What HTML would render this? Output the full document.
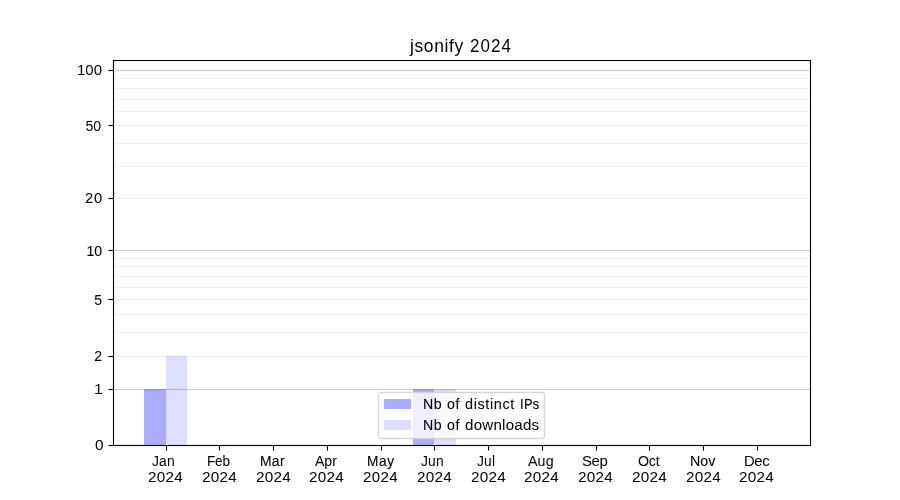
<!DOCTYPE html>
<html lang="en"><head><meta charset="utf-8"><title>jsonify 2024</title>
<style>
html,body{margin:0;padding:0;background:#fff}
body{position:relative;width:900px;height:500px;overflow:hidden;font-family:"Liberation Sans",sans-serif;color:#000}
div,span{position:absolute;margin:0;padding:0}
.gM,.gm{left:114px;width:696px;height:1px}
.gM{background:#ccc;box-shadow:0 -1px 0 #fcfcfc,0 1px 0 #fcfcfc}
.gm{background:#eee;box-shadow:0 -1px 0 #fefefe,0 1px 0 #fefefe}
.b1{background:rgba(0,0,255,.33)}.b2{background:rgba(0,0,255,.13)}
.sp{background:#000}
.hh{left:113px;width:698px;height:3px;background:linear-gradient(to bottom,rgba(0,0,0,.055) 0 1px,#000 1px 2px,rgba(0,0,0,.055) 2px 3px)}
.hv{top:60px;height:386px;width:3px;background:linear-gradient(to right,rgba(0,0,0,.055) 0 1px,#000 1px 2px,rgba(0,0,0,.055) 2px 3px)}
.hh::before,.hh::after,.hv::before,.hv::after{content:"";position:absolute;width:1px;height:1px;background:rgba(0,0,0,.055)}
.hh::before{left:-1px;top:1px}.hh::after{right:-1px;top:1px}.hv::before{left:1px;top:-1px}.hv::after{left:1px;bottom:-1px}
.ty{left:108px;width:5px;height:3px;background:linear-gradient(to bottom,rgba(0,0,0,.055) 0 1px,transparent 1px 2px,rgba(0,0,0,.055) 2px 3px)}
.ty i{position:absolute;left:0;top:1px;width:5px;height:1px;background:linear-gradient(to right,rgba(0,0,0,.5) 0 1px,#000 1px 5px)}
.tx{top:446px;width:3px;height:5px;background:linear-gradient(to right,rgba(0,0,0,.055) 0 1px,transparent 1px 2px,rgba(0,0,0,.055) 2px 3px)}
.tx i{position:absolute;left:1px;top:0;width:1px;height:5px;background:linear-gradient(to bottom,#000 0 4px,rgba(0,0,0,.5) 4px 5px)}
.t{white-space:nowrap;line-height:1;transform-origin:0 0}
.L{left:0;top:0;width:900px;height:500px;will-change:transform}
.leg{left:378px;top:392px;width:167px;height:47px;box-sizing:border-box;border:1px solid rgba(204,204,204,.8);border-radius:3.4px;background:rgba(255,255,255,.8);box-shadow:0 0 0 1px rgba(204,204,204,.157),inset 0 0 0 1px rgba(204,204,204,.157)}
</style></head><body>
<div class="gM" style="top:70px"></div>
<div class="gM" style="top:250px"></div>
<div class="gM" style="top:389px"></div>
<div class="gm" style="top:78px"></div>
<div class="gm" style="top:88px"></div>
<div class="gm" style="top:99px"></div>
<div class="gm" style="top:111px"></div>
<div class="gm" style="top:125px"></div>
<div class="gm" style="top:143px"></div>
<div class="gm" style="top:166px"></div>
<div class="gm" style="top:198px"></div>
<div class="gm" style="top:258px"></div>
<div class="gm" style="top:266px"></div>
<div class="gm" style="top:276px"></div>
<div class="gm" style="top:287px"></div>
<div class="gm" style="top:299px"></div>
<div class="gm" style="top:314px"></div>
<div class="gm" style="top:332px"></div>
<div class="gm" style="top:356px"></div>
<div class="b1" style="left:144px;top:389px;width:22px;height:56px"></div>
<div class="b2" style="left:166px;top:356px;width:21px;height:89px"></div>
<div class="b1" style="left:413px;top:389px;width:21px;height:56px"></div>
<div class="b2" style="left:434px;top:389px;width:22px;height:56px"></div>
<div class="hh" style="top:59px"></div><div class="hh" style="top:444px"></div>
<div class="hv" style="left:112px"></div><div class="hv" style="left:809px"></div>
<div class="ty" style="top:69px"><i></i></div>
<div class="ty" style="top:124px"><i></i></div>
<div class="ty" style="top:197px"><i></i></div>
<div class="ty" style="top:249px"><i></i></div>
<div class="ty" style="top:298px"><i></i></div>
<div class="ty" style="top:355px"><i></i></div>
<div class="ty" style="top:388px"><i></i></div>
<div class="ty" style="top:444px"><i></i></div>
<div class="tx" style="left:165px"><i></i></div>
<div class="tx" style="left:218px"><i></i></div>
<div class="tx" style="left:272px"><i></i></div>
<div class="tx" style="left:326px"><i></i></div>
<div class="tx" style="left:380px"><i></i></div>
<div class="tx" style="left:433px"><i></i></div>
<div class="tx" style="left:487px"><i></i></div>
<div class="tx" style="left:541px"><i></i></div>
<div class="tx" style="left:595px"><i></i></div>
<div class="tx" style="left:648px"><i></i></div>
<div class="tx" style="left:702px"><i></i></div>
<div class="tx" style="left:756px"><i></i></div>
<div class="L">
<span class="t" id="ti1" style="left:409.50px;top:37.50px;font-size:16.90px;transform:scale(1.0350,1.0390);letter-spacing:0.60px">jsonify</span>
<span class="t" id="ti2" style="left:469.75px;top:37.50px;font-size:16.90px;transform:scale(1.0070,1.0550);letter-spacing:1.00px">2024</span>
<span class="t" id="y100" style="left:76.50px;top:62.50px;font-size:14.10px;transform:scale(1.0630,1.0360)">100</span>
<span class="t" id="y50" style="left:85.50px;top:118.50px;font-size:14.10px;transform:scale(1.0000,0.9950)">50</span>
<span class="t" id="y20" style="left:84.50px;top:190.50px;font-size:14.10px;transform:scale(1.0450,1.0100);-webkit-text-stroke:0.05px #000;letter-spacing:0.80px">20</span>
<span class="t" id="y10" style="left:86.50px;top:243.50px;font-size:14.10px;transform:scale(1.0000,1.0350);-webkit-text-stroke:0.10px #000">10</span>
<span class="t" id="y5" style="left:94.25px;top:292.50px;font-size:14.10px;transform:scale(1.0000,1.0320)">5</span>
<span class="t" id="y2" style="left:94.25px;top:349.00px;font-size:14.10px;transform:scale(1.0000,0.9770);-webkit-text-stroke:0.05px #000">2</span>
<span class="t" id="y1" style="left:93.50px;top:381.50px;font-size:14.10px;transform:scale(1.1120,1.0030)">1</span>
<span class="t" id="y0" style="left:95.00px;top:437.50px;font-size:14.10px;transform:scale(1.0900,0.9800)">0</span>
<span class="t" id="m0" style="left:151.50px;top:453.50px;font-size:14.10px;transform:scale(0.9800,1.0200);letter-spacing:0.20px">Jan</span>
<span class="t" id="d0" style="left:147.50px;top:469.50px;font-size:14.10px;transform:scale(1.0850,1.0100);letter-spacing:0.20px">2024</span>
<span class="t" id="m1" style="left:206.50px;top:454.00px;font-size:14.10px;transform:scale(0.9600,0.9930);letter-spacing:-0.20px">Feb</span>
<span class="t" id="d1" style="left:201.50px;top:469.50px;font-size:14.10px;transform:scale(1.0850,1.0100);letter-spacing:0.20px">2024</span>
<span class="t" id="m2" style="left:259.50px;top:453.50px;font-size:14.10px;transform:scale(0.9850,0.9950);-webkit-text-stroke:0.10px #000;letter-spacing:0.30px">Mar</span>
<span class="t" id="d2" style="left:255.50px;top:469.50px;font-size:14.10px;transform:scale(1.0850,1.0100);letter-spacing:0.20px">2024</span>
<span class="t" id="m3" style="left:314.50px;top:453.50px;font-size:14.10px;transform:scale(0.9970,1.0130)">Apr</span>
<span class="t" id="d3" style="left:309.00px;top:469.50px;font-size:14.10px;transform:scale(1.0850,1.0100);letter-spacing:0.20px">2024</span>
<span class="t" id="m4" style="left:366.50px;top:453.50px;font-size:14.10px;transform:scale(0.9710,1.0170);-webkit-text-stroke:0.10px #000;letter-spacing:0.70px">May</span>
<span class="t" id="d4" style="left:362.75px;top:469.50px;font-size:14.10px;transform:scale(1.0750,0.9810);letter-spacing:0.30px">2024</span>
<span class="t" id="m5" style="left:420.50px;top:453.50px;font-size:14.10px;transform:scale(0.9800,1.0200);letter-spacing:0.20px">Jun</span>
<span class="t" id="d5" style="left:416.50px;top:469.50px;font-size:14.10px;transform:scale(1.0850,1.0100);letter-spacing:0.20px">2024</span>
<span class="t" id="m6" style="left:476.75px;top:454.00px;font-size:14.10px;transform:scale(0.9750,1.0400);letter-spacing:0.20px">Jul</span>
<span class="t" id="d6" style="left:470.50px;top:469.50px;font-size:14.10px;transform:scale(1.0850,1.0100);letter-spacing:0.20px">2024</span>
<span class="t" id="m7" style="left:527.50px;top:453.50px;font-size:14.10px;transform:scale(1.0120,1.0120);letter-spacing:0.10px">Aug</span>
<span class="t" id="d7" style="left:523.75px;top:469.50px;font-size:14.10px;transform:scale(1.0850,1.0100);letter-spacing:0.20px">2024</span>
<span class="t" id="m8" style="left:581.75px;top:452.50px;font-size:14.10px;transform:scale(1.0630,1.0600);letter-spacing:-0.40px">Sep</span>
<span class="t" id="d8" style="left:577.75px;top:469.75px;font-size:14.10px;transform:scale(1.0850,1.0100);letter-spacing:0.20px">2024</span>
<span class="t" id="m9" style="left:637.50px;top:452.50px;font-size:14.10px;transform:scale(1.0050,1.0650);letter-spacing:-0.20px">Oct</span>
<span class="t" id="d9" style="left:631.50px;top:469.50px;font-size:14.10px;transform:scale(1.0850,1.0100);letter-spacing:0.20px">2024</span>
<span class="t" id="m10" style="left:690.00px;top:453.50px;font-size:14.10px;transform:scale(1.0100,1.0320);-webkit-text-stroke:0.10px #000">Nov</span>
<span class="t" id="d10" style="left:685.50px;top:469.50px;font-size:14.10px;transform:scale(1.0850,1.0100);letter-spacing:0.20px">2024</span>
<span class="t" id="m11" style="left:743.50px;top:452.50px;font-size:14.10px;transform:scale(1.0580,1.0780);letter-spacing:-0.40px">Dec</span>
<span class="t" id="d11" style="left:738.50px;top:469.50px;font-size:14.10px;transform:scale(1.0850,1.0100);letter-spacing:0.20px">2024</span>
</div>
<div class="leg"></div>
<div class="b1" style="left:384px;top:399px;width:27px;height:10px"></div>
<div class="b2" style="left:384px;top:420px;width:27px;height:10px"></div>
<div class="L">
<span class="t" id="l1a" style="left:422.50px;top:395.50px;font-size:14.10px;transform:scale(1.0050,1.0850);-webkit-text-stroke:0.10px #000;letter-spacing:0.40px">Nb</span>
<span class="t" id="l1b" style="left:446.50px;top:396.50px;font-size:14.10px;transform:scale(1.0080,1.0410);-webkit-text-stroke:0.10px #000;letter-spacing:0.50px">of</span>
<span class="t" id="l1c" style="left:464.50px;top:396.50px;font-size:14.10px;transform:scale(1.0260,1.0200);-webkit-text-stroke:0.05px #000;letter-spacing:0.60px">distinct</span>
<span class="t" id="l1d" style="left:519.75px;top:395.50px;font-size:14.10px;transform:scale(0.9080,1.0930);-webkit-text-stroke:0.15px #000;letter-spacing:0.40px">IPs</span>
<span class="t" id="l2a" style="left:422.50px;top:416.50px;font-size:14.10px;transform:scale(1.0050,1.0850);-webkit-text-stroke:0.10px #000;letter-spacing:0.40px">Nb</span>
<span class="t" id="l2b" style="left:446.50px;top:417.50px;font-size:14.10px;transform:scale(1.0080,1.0410);-webkit-text-stroke:0.10px #000;letter-spacing:0.60px">of</span>
<span class="t" id="l2c" style="left:464.50px;top:416.50px;font-size:14.10px;transform:scale(1.0750,1.0950);letter-spacing:0.20px">downloads</span>
</div>
</body></html>
